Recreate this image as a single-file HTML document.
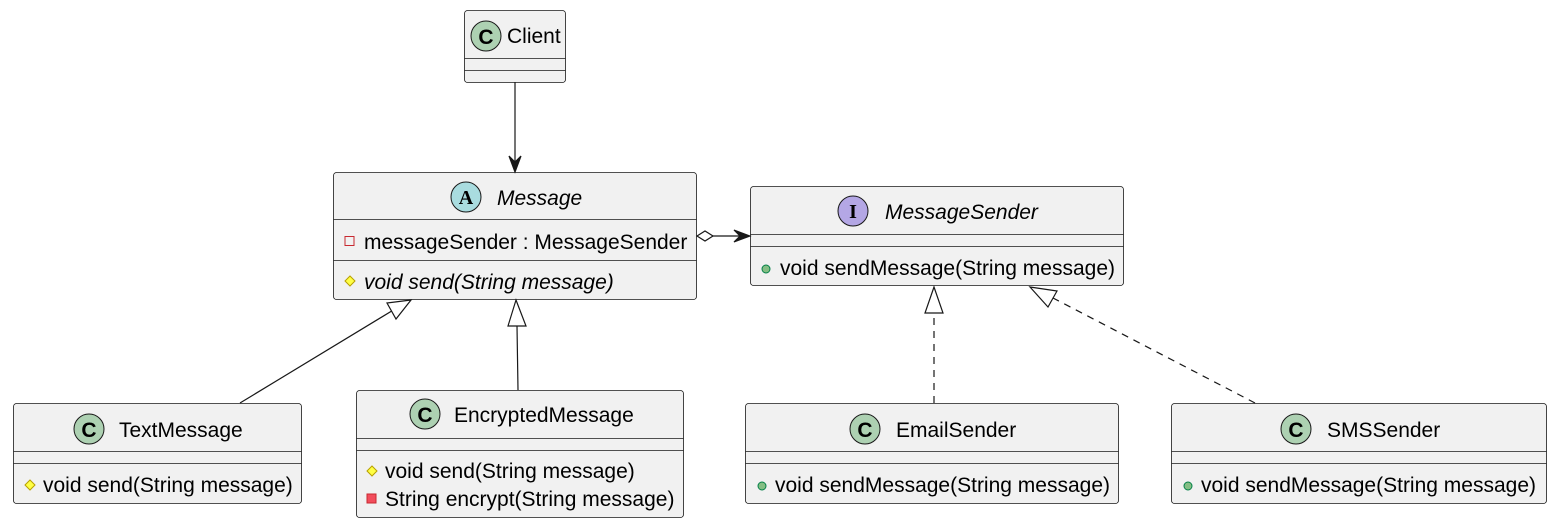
<!DOCTYPE html>
<html><head><meta charset="utf-8"><style>
html,body{margin:0;padding:0;background:#fff;}
svg{display:block;font-family:"Liberation Sans",sans-serif;}
</style></head><body>
<svg width="1554" height="526" viewBox="0 0 1554 526" xmlns="http://www.w3.org/2000/svg">
<g fill="#F1F1F1" stroke="#181818" stroke-width="0.8">
<rect x="464.5" y="10.5" width="101" height="72" rx="3"/>
<rect x="333.5" y="172.5" width="363" height="127" rx="3"/>
<rect x="750.5" y="186.5" width="373" height="99" rx="3"/>
<rect x="13.5" y="403.5" width="288" height="100" rx="3"/>
<rect x="356.5" y="390.5" width="327" height="127" rx="3"/>
<rect x="745.5" y="403.5" width="373" height="100" rx="3"/>
<rect x="1171.5" y="403.5" width="375" height="100" rx="3"/>
</g>
<g stroke="#181818" stroke-width="0.8">
<line x1="464.5" y1="58.5" x2="565.5" y2="58.5"/><line x1="464.5" y1="70.5" x2="565.5" y2="70.5"/>
<line x1="333.5" y1="219.5" x2="696.5" y2="219.5"/><line x1="333.5" y1="260.5" x2="696.5" y2="260.5"/>
<line x1="750.5" y1="234.5" x2="1123.5" y2="234.5"/><line x1="750.5" y1="246.5" x2="1123.5" y2="246.5"/>
<line x1="13.5" y1="451.5" x2="301.5" y2="451.5"/><line x1="13.5" y1="463.5" x2="301.5" y2="463.5"/>
<line x1="356.5" y1="438.5" x2="683.5" y2="438.5"/><line x1="356.5" y1="450.5" x2="683.5" y2="450.5"/>
<line x1="745.5" y1="451.5" x2="1118.5" y2="451.5"/><line x1="745.5" y1="463.5" x2="1118.5" y2="463.5"/>
<line x1="1171.5" y1="451.5" x2="1546.5" y2="451.5"/><line x1="1171.5" y1="463.5" x2="1546.5" y2="463.5"/>
</g>
<g stroke="#181818" stroke-width="1">
<circle cx="486" cy="36" r="15" fill="#ADD1B2"/>
<circle cx="466" cy="197" r="15" fill="#A9DCDF"/>
<circle cx="853" cy="211" r="15" fill="#B4A7E5"/>
<circle cx="89" cy="429" r="15" fill="#ADD1B2"/>
<circle cx="425" cy="414" r="15" fill="#ADD1B2"/>
<circle cx="865" cy="429" r="15" fill="#ADD1B2"/>
<circle cx="1296" cy="429" r="15" fill="#ADD1B2"/>
</g>
<g font-weight="bold" font-size="21" text-anchor="middle" fill="#000">
<text x="486" y="44">C</text>
<text x="89" y="437">C</text><text x="425" y="422">C</text><text x="865" y="437">C</text><text x="1296" y="437">C</text>
</g>
<g font-family="Liberation Serif,serif" font-weight="bold" font-size="20" text-anchor="middle" fill="#000">
<text x="466" y="204">A</text><text x="853" y="218">I</text>
</g>
<g font-size="21" fill="#000">
<text x="507" y="43">Client</text>
<text x="497" y="205" font-style="italic">Message</text>
<text x="885" y="219" font-style="italic">MessageSender</text>
<text x="119" y="437">TextMessage</text>
<text x="454" y="422">EncryptedMessage</text>
<text x="896" y="437">EmailSender</text>
<text x="1327" y="437">SMSSender</text>
</g>
<g font-size="21" fill="#000">
<text x="364" y="249">messageSender : MessageSender</text>
<text x="364" y="289" font-style="italic">void send(String message)</text>
<text x="780" y="275">void sendMessage(String message)</text>
<text x="43" y="492">void send(String message)</text>
<text x="385" y="478">void send(String message)</text>
<text x="385" y="506">String encrypt(String message)</text>
<text x="775" y="492">void sendMessage(String message)</text>
<text x="1201" y="492">void sendMessage(String message)</text>
</g>
<rect x="345" y="236.5" width="9" height="9" fill="none" stroke="#C82930" stroke-width="1"/>
<g fill="#FFFF44" stroke="#B8A000" stroke-width="1">
<polygon points="350,276 355,281 350,286 345,281"/>
<polygon points="30,480 35,485 30,490 25,485"/>
<polygon points="372,466 377,471 372,476 367,471"/>
</g>
<rect x="367" y="494" width="9" height="9" fill="#F24D5C" stroke="#C82930" stroke-width="1"/>
<g fill="#84BE84" stroke="#038048" stroke-width="1">
<circle cx="766" cy="269" r="4"/><circle cx="762" cy="486" r="4"/><circle cx="1188" cy="486" r="4"/>
</g>
<g stroke="#181818" stroke-width="1.2" fill="none">
<line x1="515" y1="82" x2="515" y2="168"/>
<line x1="712" y1="236" x2="745" y2="236"/>
<line x1="240" y1="403" x2="395" y2="309"/>
<line x1="518" y1="390" x2="517" y2="326"/>
<line x1="934" y1="403" x2="934" y2="313" stroke-dasharray="7,6"/>
<line x1="1255" y1="403" x2="1053" y2="298" stroke-dasharray="7,6"/>
</g>
<g stroke="#181818" stroke-width="1.2">
<polygon points="515,172 509,156 515,162 521,156" fill="#181818"/>
<polygon points="750,236 734,230 740,236 734,242" fill="#181818"/>
<polygon points="697,236 705,231 713,236 705,241" fill="#fff"/>
<polygon points="411,300 387,303 396,319" fill="#fff"/>
<polygon points="516,300 508,326 526,326" fill="#fff"/>
<polygon points="934,287 925,313 943,313" fill="#fff"/>
<polygon points="1030,287 1048,307 1057,291" fill="#fff"/>
</g>
</svg>
</body></html>
